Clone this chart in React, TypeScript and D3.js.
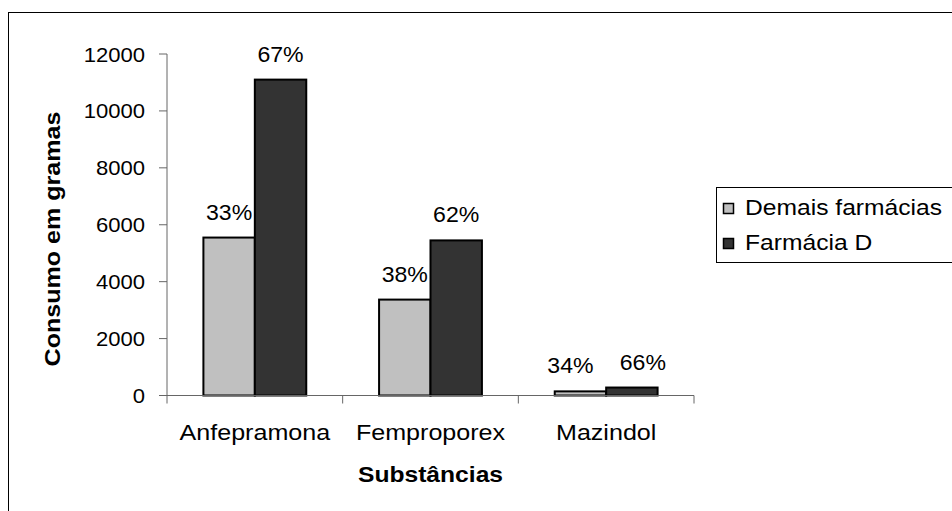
import { useEffect, useRef } from "react";
import * as d3 from "d3";

const categories = ["Anfepramona", "Femproporex", "Mazindol"];
const seriesNames = ["Demais farmácias", "Farmácia D"];
const demais = [5550, 3370, 145];
const farmaciaD = [11100, 5450, 280];
const percentLabels = [
  ["33%", "67%"],
  ["38%", "62%"],
  ["34%", "66%"],
];
const yTicks = [0, 2000, 4000, 6000, 8000, 10000, 12000];
const colors = ["#c0c0c0", "#333333"];

const W = 952;
const H = 511;
const plot = { left: 167, right: 694, top: 54, bottom: 395.5 };
const font = "Liberation Sans, Arial, sans-serif";

type Sel = d3.Selection<any, unknown, null, undefined>;

// text drawn slightly stretched sideways, like the source image
function label(
  g: Sel,
  x: number,
  y: number,
  s: string,
  o: { size: number; sx?: number; anchor?: string; bold?: boolean; rotate?: number }
) {
  const t = `translate(${x},${y})${o.rotate ? ` rotate(${o.rotate})` : ""} scale(${o.sx ?? 1},1)`;
  return g
    .append("text")
    .attr("transform", t)
    .attr("text-anchor", o.anchor ?? "start")
    .attr("font-family", font)
    .attr("font-size", o.size)
    .attr("font-weight", o.bold ? "bold" : "normal")
    .attr("fill", "#000")
    .text(s);
}

export default function App() {
  const svgRef = useRef<SVGSVGElement>(null);

  useEffect(() => {
    if (!svgRef.current) return;
    const svg = d3.select(svgRef.current) as unknown as Sel;
    svg.selectAll("*").remove();

    const x = d3.scaleBand().domain(categories).range([plot.left, plot.right]);
    const y = d3.scaleLinear().domain([0, 12000]).range([plot.bottom, plot.top]);
    const inner = d3.scaleBand().domain(seriesNames).range([0, x.bandwidth()]).paddingOuter(0.708);

    // chart frame
    svg
      .append("rect")
      .attr("x", 8.5)
      .attr("y", 12.5)
      .attr("width", W + 20)
      .attr("height", H + 20)
      .attr("fill", "none")
      .attr("stroke", "#000")
      .attr("stroke-width", 1);

    // bars + percentage labels
    categories.forEach((c, i) => {
      const vals = [demais[i], farmaciaD[i]];
      // labels of short bars sit side by side, so push them apart a little
      const crowded = Math.abs(y(vals[0]) - y(vals[1])) < 20;
      vals.forEach((v, j) => {
        const bx = (x(c) ?? 0) + (inner(seriesNames[j]) ?? 0);
        svg
          .append("rect")
          .attr("x", bx)
          .attr("y", y(v))
          .attr("width", inner.bandwidth())
          .attr("height", y(0) - y(v))
          .attr("fill", colors[j])
          .attr("stroke", "#000")
          .attr("stroke-width", 2);
        const dx = crowded ? (j === 0 ? -10 : 11) : 0;
        label(svg, bx + inner.bandwidth() / 2 + dx, y(v) - 18, percentLabels[i][j], {
          size: 22,
          sx: 1.05,
          anchor: "middle",
        });
      });
    });

    // y axis
    const yAxis = svg.append("g").attr("transform", `translate(${plot.left},0)`);
    yAxis.append("line").attr("y1", plot.top).attr("y2", plot.bottom).attr("stroke", "#666");
    yTicks.forEach((t) => {
      yAxis.append("line").attr("x1", -8).attr("x2", 0).attr("y1", y(t)).attr("y2", y(t)).attr("stroke", "#666");
      label(yAxis, -22, y(t) + 7.5, d3.format("d")(t), { size: 21, sx: 1.05, anchor: "end" });
    });

    // x axis
    const xAxis = svg.append("g").attr("transform", `translate(0,${plot.bottom})`);
    xAxis.append("line").attr("x1", plot.left).attr("x2", plot.right).attr("stroke", "#666");
    [...categories.map((c) => x(c) ?? 0), plot.right].forEach((tx) => {
      xAxis.append("line").attr("x1", tx).attr("x2", tx).attr("y1", 0).attr("y2", 8).attr("stroke", "#666");
    });
    categories.forEach((c) => {
      label(xAxis, (x(c) ?? 0) + x.bandwidth() / 2, 44.5, c, { size: 22, sx: 1.14, anchor: "middle" });
    });

    // axis titles
    label(svg, (plot.left + plot.right) / 2, 482, "Substâncias", { size: 22, sx: 1.12, anchor: "middle", bold: true });
    label(svg, 60, 239, "Consumo em gramas", { size: 22, sx: 1.14, anchor: "middle", bold: true, rotate: -90 });

    // legend
    const lg = svg.append("g").attr("transform", "translate(716,187)");
    lg.append("rect")
      .attr("x", 0.5)
      .attr("y", 0.5)
      .attr("width", 245)
      .attr("height", 75)
      .attr("fill", "#fff")
      .attr("stroke", "#000");
    seriesNames.forEach((s, i) => {
      const top = 16 + i * 35;
      lg.append("rect")
        .attr("x", 7.5)
        .attr("y", top + 0.5)
        .attr("width", 10)
        .attr("height", 10)
        .attr("fill", colors[i])
        .attr("stroke", "#000")
        .attr("stroke-width", 1.5);
      label(lg, 29, top + 12, s, { size: 22, sx: 1.12 });
    });
  }, []);

  return (
    <svg
      ref={svgRef}
      width={W}
      height={H}
      style={{ position: "absolute", left: 0, top: 0, background: "#fff" }}
    />
  );
}
